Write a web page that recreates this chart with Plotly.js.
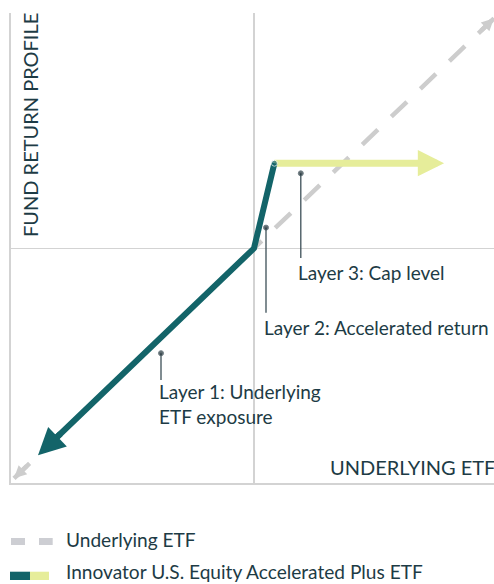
<!DOCTYPE html>
<html><head><meta charset="utf-8">
<script src="https://cdn.plot.ly/plotly-3.0.1.min.js"></script>
<style>html,body{margin:0;padding:0;background:#fff;}#chart{width:494px;height:584px;}</style>
</head><body><div id="chart"></div>
<script>
// Illustrative payoff: underlying ETF return (x) vs fund return (y)
const underlyingX = [-100, 100];
const underlyingY = [-100, 100];
const layer1X = [-90, 0];      // Layer 1: 1:1 downside exposure
const layer1Y = [-90, 0];
const layer2X = [0, 8.5];      // Layer 2: accelerated upside
const layer2Y = [0, 37];
const layer3X = [8.5, 79.2];   // Layer 3: capped
const layer3Y = [37, 37];

const labelTexts = ['Layer 1: Underlying<br>ETF exposure', 'Layer 2: Accelerated return', 'Layer 3: Cap level'];
const labelDotX = [-38.75, 5, 19.5];
const labelDotY = [-45.6, 9.0, 32.6];
const labelEndY = [-57.3, -28.0, -4.2];
const labelTextX = [-40.0, 3.8, 18.1];
const labelTextY = [-57.0, -28.9, -4.9];

const legendNames = ['Underlying ETF', 'Innovator U.S. Equity Accelerated Plus ETF'];
const xAxisTitle = 'UNDERLYING ETF';
const yAxisTitle = 'FUND RETURN PROFILE';

const TEAL = '#136469', YELLOW = '#e6ed9a', GRAY = '#cdcdcd', TXT = '#1d3b45', AXIS = '#d3d3d3';
const FONT = 'Lato, "Open Sans", sans-serif';
const W = 494, H = 584, L = 11, R = 0, T = 13, B = 101;
const pw = W - L - R, ph = H - T - B;
const pxX = p => (p - L) / pw;
const pxY = p => (H - B - p) / ph;

const lastOf = a => a[a.length - 1];

const traces = [
  {x: underlyingX, y: underlyingY, mode: 'lines', line: {color: GRAY, width: 4.5, dash: '21.6px,18.6px'}, hoverinfo: 'skip'},
  {x: [layer3X[0], layer3X[1] - 7], y: layer3Y, mode: 'lines', line: {color: YELLOW, width: 7}, hoverinfo: 'skip'},
  {x: [layer1X[0] + 6].concat(layer2X), y: [layer1Y[0] + 6].concat(layer2Y), mode: 'lines+markers',
   line: {color: TEAL, width: 6}, marker: {color: TEAL, size: [0, 0, 6]}, hoverinfo: 'skip'}
];
// leader lines to layer labels
for (let i = 0; i < labelTexts.length; i++) {
  traces.push({x: [labelDotX[i], labelDotX[i]], y: [labelDotY[i], labelEndY[i]], mode: 'lines+markers',
    line: {color: '#3c4f57', width: 1.3}, marker: {color: '#1a2c33', size: [5, 0]}, hoverinfo: 'skip'});
}

const annotations = [];
function head(x, y, ax, ay, color, w, s) {
  annotations.push({x: x, y: y, ax: ax, ay: ay, xref: 'x', yref: 'y', axref: 'x', ayref: 'y', text: '',
    showarrow: true, arrowhead: 2, arrowwidth: w, arrowsize: s, arrowcolor: color, standoff: 0});
}
head(lastOf(underlyingX), lastOf(underlyingY), lastOf(underlyingX) - 6, lastOf(underlyingY) - 6, GRAY, 4.5, 0.55);
head(underlyingX[0], underlyingY[0], underlyingX[0] + 6, underlyingY[0] + 6, GRAY, 4.5, 0.55);
head(layer1X[0], layer1Y[0], layer1X[0] + 10, layer1Y[0] + 10, TEAL, 6, 0.9);
head(lastOf(layer3X), lastOf(layer3Y), lastOf(layer3X) - 10, lastOf(layer3Y), YELLOW, 7, 0.75);

const tfont = {family: FONT, size: 19, color: TXT};
const capsFont = {family: FONT, size: 20, color: TXT};
const legFont = {family: FONT, size: 19.1, color: TXT};
for (let i = 0; i < labelTexts.length; i++) {
  annotations.push({x: labelTextX[i], y: labelTextY[i], xref: 'x', yref: 'y', text: labelTexts[i],
    showarrow: false, xanchor: 'left', yanchor: 'top', align: 'left', borderpad: 0, font: tfont});
}
annotations.push({x: pxX(30), y: pxY(125), xref: 'paper', yref: 'paper', text: yAxisTitle, textangle: -90,
  showarrow: false, xanchor: 'center', yanchor: 'middle', font: capsFont});
annotations.push({x: pxX(329), y: pxY(467), xref: 'paper', yref: 'paper', text: xAxisTitle,
  showarrow: false, xanchor: 'left', yanchor: 'middle', borderpad: 0, font: capsFont});
annotations.push({x: pxX(65), y: pxY(539.5), xref: 'paper', yref: 'paper', text: legendNames[0],
  showarrow: false, xanchor: 'left', yanchor: 'middle', borderpad: 0, font: legFont});
annotations.push({x: pxX(65), y: pxY(571.5), xref: 'paper', yref: 'paper', text: legendNames[1],
  showarrow: false, xanchor: 'left', yanchor: 'middle', borderpad: 0, font: legFont});

const rect = (x0, x1, y0, y1, c) => ({type: 'rect', xref: 'paper', yref: 'paper', x0: pxX(x0), x1: pxX(x1),
  y0: pxY(y1), y1: pxY(y0), fillcolor: c, line: {width: 0}, layer: 'above'});
const shapes = [
  rect(11, 25, 538, 545, '#cdced3'),
  rect(39, 52.7, 538, 545, '#cdced3'),
  rect(10, 30, 571.7, 580, TEAL),
  rect(30, 49, 571.7, 580, YELLOW)
];

const axisCommon = {showgrid: false, zeroline: true, zerolinecolor: AXIS, zerolinewidth: 1.5,
  showline: true, linecolor: AXIS, linewidth: 2, showticklabels: false, ticks: '', fixedrange: true};
const layout = {
  width: W, height: H, margin: {l: L, r: R, t: T, b: B, pad: 0},
  paper_bgcolor: '#fff', plot_bgcolor: '#fff', showlegend: false,
  xaxis: Object.assign({range: [-101.25, 100]}, axisCommon),
  yaxis: Object.assign({range: [-102.04, 102.3]}, axisCommon),
  annotations: annotations, shapes: shapes
};
Plotly.newPlot('chart', traces, layout, {displayModeBar: false, staticPlot: true});
</script></body></html>
